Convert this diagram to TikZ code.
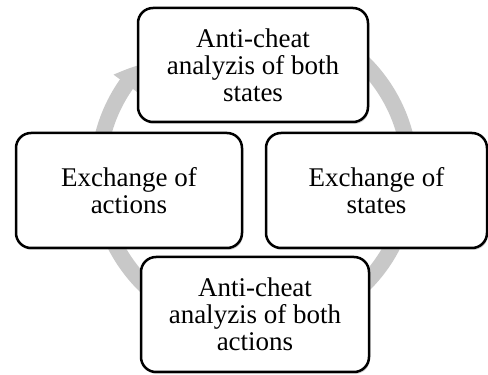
\documentclass[tikz,border=0pt]{standalone}
\usepackage{fontspec}
\setmainfont{Liberation Serif}
\usetikzlibrary{arrows.meta,bending,shadows}
\definecolor{ringgray}{RGB}{200,200,200}
\tikzset{
    stepbox/.style={draw=black, line width=2.5pt, rounded corners=15pt, fill=white,
        align=center, inner sep=0pt, font=\fontsize{27}{27}\selectfont,
        drop shadow={shadow xshift=1pt, shadow yshift=-2pt, opacity=0.35}},
    ring/.style={ringgray, line width=16pt}
}
\begin{document}
\begin{tikzpicture}[x=1pt,y=1pt]
    \useasboundingbox (0,0) rectangle (488,375);
    \coordinate (c) at (254,201);
    % Anillo
    \draw[ring, -{Triangle[length=27pt,width=30pt,bend]}] (c) ++(125:156) arc[start angle=125, end angle=-225, radius=156pt];
    % Cajas
    \node[stepbox, minimum width=230pt, minimum height=114pt] (chkstates) at (253,310) {Anti-cheat\\analyzis of both\\states};
    \node[stepbox, minimum width=221pt, minimum height=115pt] (exstates) at (376.5,184.5) {Exchange of\\states};
    \node[stepbox, minimum width=228pt, minimum height=115pt] (chkactions) at (255,60.5) {Anti-cheat\\analyzis of both\\actions};
    \node[stepbox, minimum width=226pt, minimum height=115pt] (exactions) at (129,184.5) {Exchange of\\actions};
\end{tikzpicture}
\end{document}
